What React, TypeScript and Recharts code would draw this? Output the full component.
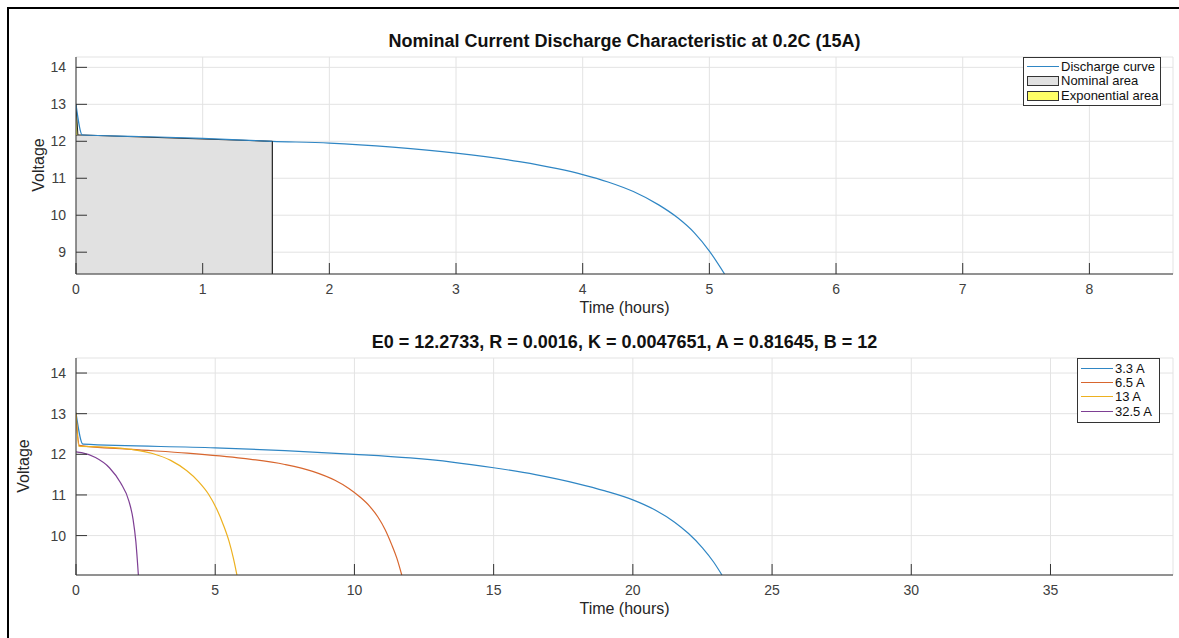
import React from 'react';
import { ComposedChart, Line, Area, XAxis, YAxis, CartesianGrid, ReferenceLine } from 'recharts';

const FONT = '"Liberation Sans", Arial, Helvetica, sans-serif';
const AXIS = '#333333';
const GRID = '#e3e3e3';
const TICK_TEXT = '#404040';

// top panel - nominal discharge at 0.2C (15A)
const dischargeTime = [0, 0.05, 0.5, 1, 1.55, 2, 2.5, 3, 3.5, 3.8, 4, 4.2, 4.4, 4.6, 4.75, 4.88, 5, 5.12];
const dischargeVolt = [13.0, 12.17, 12.13, 12.08, 12.0, 11.95, 11.84, 11.68, 11.45, 11.26, 11.1, 10.9, 10.64, 10.28, 9.93, 9.53, 9.03, 8.41];
const nominalTime = [0, 0.05, 1.55];
const nominalVolt = [12.17, 12.17, 12.0];
const expTime = [0, 0.015];
const expVolt = [13.0, 12.17];
const topXTicks = [0, 1, 2, 3, 4, 5, 6, 7, 8];
const topYTicks = [9, 10, 11, 12, 13, 14];
const topXDomain = [0, 8.66];
const topYDomain = [8.41, 14.28];

// bottom panel - discharge at several currents
const seriesNames = ['3.3 A', '6.5 A', '13 A', '32.5 A'];
const seriesColors = ['#2f86c4', '#d8662e', '#edb120', '#7e3f94'];
const time33 = [0, 0.25, 5, 7.5, 10, 12, 13.5, 15, 16.5, 18, 19, 20, 20.8, 21.5, 22, 22.5, 22.9, 23.2];
const volt33 = [13.02, 12.25, 12.16, 12.09, 12.0, 11.91, 11.81, 11.67, 11.5, 11.28, 11.1, 10.88, 10.63, 10.33, 10.05, 9.7, 9.35, 9.03];
const time65 = [0, 0.12, 2, 4, 6, 7.5, 8.5, 9.3, 9.8, 10.2, 10.55, 10.85, 11.1, 11.33, 11.52, 11.7];
const volt65 = [12.98, 12.22, 12.12, 12.03, 11.9, 11.75, 11.58, 11.36, 11.16, 10.95, 10.72, 10.45, 10.15, 9.79, 9.45, 9.03];
const time13 = [0, 0.1, 1, 2, 2.75, 3.4, 3.97, 4.4, 4.75, 5.05, 5.3, 5.5, 5.65, 5.78];
const volt13 = [13.02, 12.2, 12.18, 12.12, 12.02, 11.85, 11.6, 11.33, 11.03, 10.66, 10.25, 9.85, 9.45, 9.03];
const time325 = [0, 0.2, 0.7, 1.2, 1.6, 1.9, 2.05, 2.15, 2.24];
const volt325 = [12.06, 12.04, 11.92, 11.67, 11.3, 10.85, 10.4, 9.85, 9.03];
const botXTicks = [0, 5, 10, 15, 20, 25, 30, 35];
const botYTicks = [10, 11, 12, 13, 14];
const botXDomain = [0, 39.4];
const botYDomain = [9.03, 14.37];

const zip = (t: number[], v: number[]) => t.map((x, i) => ({ t: x, v: v[i] }));

const tickStyle = { fontSize: 14, fill: TICK_TEXT, fontFamily: FONT };

function Axes({ xTicks, yTicks, xDomain, yDomain }: any) {
  return [
    <CartesianGrid key="g" stroke={GRID} />,
    <XAxis key="xb" xAxisId={0} dataKey="t" type="number" domain={xDomain} ticks={xTicks} allowDataOverflow
      height={30} tickSize={-11} tickMargin={21} stroke={AXIS} tick={tickStyle} interval={0} />,
    <XAxis key="xt" xAxisId="top" orientation="top" dataKey="t" type="number" domain={xDomain} ticks={xTicks}
      allowDataOverflow height={0} tickSize={-11} tick={false} stroke={AXIS} interval={0} />,
    <YAxis key="yl" yAxisId={0} type="number" domain={yDomain} ticks={yTicks} allowDataOverflow
      width={40} tickSize={-11} tickMargin={21} stroke={AXIS} tick={tickStyle} interval={0} />,
    <YAxis key="yr" yAxisId="right" orientation="right" type="number" domain={yDomain} ticks={yTicks}
      allowDataOverflow width={0} tickSize={-11} tick={false} stroke={AXIS} interval={0} />,
  ];
}

const abs = (s: React.CSSProperties): React.CSSProperties => ({ position: 'absolute', ...s });

function LegendLine({ color, label }: { color: string; label: string }) {
  return (
    <div style={{ display: 'flex', alignItems: 'center', height: 14.4, whiteSpace: 'nowrap' }}>
      <div style={{ width: 32, height: 0, borderTop: `1.3px solid ${color}`, marginRight: 2 }} />
      <span>{label}</span>
    </div>
  );
}

function LegendSwatch({ fill, label }: { fill: string; label: string }) {
  return (
    <div style={{ display: 'flex', alignItems: 'center', height: 15, whiteSpace: 'nowrap' }}>
      <div style={{ width: 30, height: 8, background: fill, border: '1px solid #333', marginRight: 2 }} />
      <span>{label}</span>
    </div>
  );
}

export default function App() {
  const discharge = zip(dischargeTime, dischargeVolt);
  const nominal = zip(nominalTime, nominalVolt);
  const expo = zip(expTime, expVolt);
  const bottomSeries = [zip(time33, volt33), zip(time65, volt65), zip(time13, volt13), zip(time325, volt325)];

  const titleStyle: React.CSSProperties = { fontFamily: FONT, fontWeight: 'bold', fontSize: 18, color: '#111', textAlign: 'center', width: 1097, left: 76, whiteSpace: 'nowrap' };
  const xLabel: React.CSSProperties = { fontFamily: FONT, fontSize: 16, color: '#262626', textAlign: 'center', width: 1097, left: 76, lineHeight: '18px' };

  return (
    <div style={abs({ left: 0, top: 0, width: 1179, height: 638, overflow: 'hidden', background: '#fff', fontFamily: FONT })}>
      <div style={abs({ left: 7, top: 7, width: 1300, height: 800, border: '2px solid #000' })} />

      {/* top panel */}
      <div style={abs({ left: 0, top: 0 })}>
        <ComposedChart width={1179} height={320} margin={{ top: 57, right: 6, bottom: 16, left: 36 }}>
          {Axes({ xTicks: topXTicks, yTicks: topYTicks, xDomain: topXDomain, yDomain: topYDomain })}
          <Line data={discharge} dataKey="v" type="monotone" stroke={seriesColors[0]} strokeWidth={1.2} dot={false} isAnimationActive={false} />
          <Area data={nominal} dataKey="v" type="linear" fill="#e1e1e1" fillOpacity={1} stroke="#222" strokeWidth={1.2} isAnimationActive={false} />
          <Area data={expo} dataKey="v" type="linear" baseValue={nominalVolt[0]} fill="#ffff66" fillOpacity={1} stroke="#222" strokeWidth={1} isAnimationActive={false} />
          <ReferenceLine segment={[{ x: nominalTime[2], y: topYDomain[0] }, { x: nominalTime[2], y: nominalVolt[2] }]} stroke="#222" strokeWidth={1.2} />
        </ComposedChart>
      </div>
      <div style={abs({ ...titleStyle, top: 31 })}>Nominal Current Discharge Characteristic at 0.2C (15A)</div>
      <div style={abs({ ...xLabel, top: 299 })}>Time (hours)</div>
      <div style={abs({ left: 39, top: 165, transform: 'translate(-50%, -50%) rotate(-90deg)', fontSize: 16, color: '#262626', whiteSpace: 'nowrap' })}>Voltage</div>
      <div style={abs({ left: 1023, top: 57, width: 136, height: 46, border: '1px solid #333', background: '#fff', fontSize: 13, color: '#111', paddingTop: 1 })}>
        <div style={{ marginLeft: 3 }}>
          <LegendLine color={seriesColors[0]} label="Discharge curve" />
          <LegendSwatch fill="#e1e1e1" label="Nominal area" />
          <LegendSwatch fill="#ffff66" label="Exponential area" />
        </div>
      </div>

      {/* bottom panel */}
      <div style={abs({ left: 0, top: 320 })}>
        <ComposedChart width={1179} height={300} margin={{ top: 38, right: 6, bottom: 15, left: 36 }}>
          {Axes({ xTicks: botXTicks, yTicks: botYTicks, xDomain: botXDomain, yDomain: botYDomain })}
          {bottomSeries.map((d, i) => (
            <Line key={seriesNames[i]} data={d} dataKey="v" name={seriesNames[i]} type="monotone" stroke={seriesColors[i]}
              strokeWidth={1.2} dot={false} isAnimationActive={false} />
          ))}
        </ComposedChart>
      </div>
      <div style={abs({ ...titleStyle, top: 332 })}>E0 = 12.2733, R = 0.0016, K = 0.0047651, A = 0.81645, B = 12</div>
      <div style={abs({ ...xLabel, top: 600 })}>Time (hours)</div>
      <div style={abs({ left: 24, top: 466, transform: 'translate(-50%, -50%) rotate(-90deg)', fontSize: 16, color: '#262626', whiteSpace: 'nowrap' })}>Voltage</div>
      <div style={abs({ left: 1077, top: 358, width: 81, height: 61, border: '1px solid #333', background: '#fff', fontSize: 13, color: '#111', paddingTop: 2 })}>
        <div style={{ marginLeft: 3 }}>
          {seriesNames.map((n, i) => <LegendLine key={n} color={seriesColors[i]} label={n} />)}
        </div>
      </div>
    </div>
  );
}
